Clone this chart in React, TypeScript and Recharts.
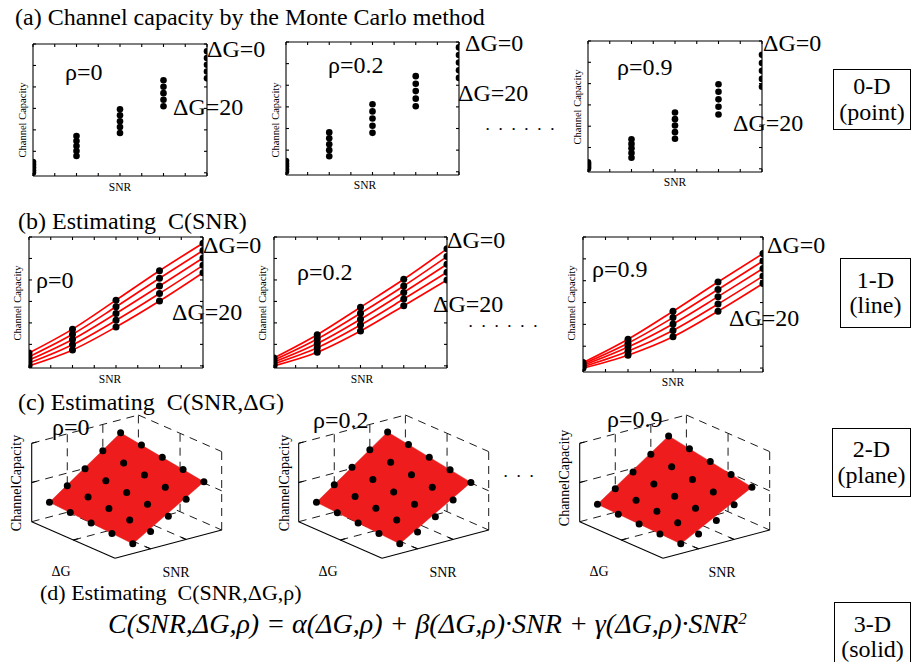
import React from 'react';
import { ComposedChart, ScatterChart, Scatter, Line, XAxis, YAxis } from 'recharts';

// ---------- data ----------
const SNR = [0, 5, 10, 15, 20];
const DELTA_G = [0, 5, 10, 15, 20];
const SNR_TICKS = [0, 2.5, 5, 7.5, 10, 12.5, 15, 17.5, 20];
const CAP_TICKS = [0, 1, 2, 3, 4, 5, 6];

// rows: ΔG = 0, 5, 10, 15, 20 ; columns: SNR = 0, 5, 10, 15, 20
const CAP_RHO0_A = [
  [0.5, 1.71, 2.96, 4.31, 5.66],
  [0.38, 1.48, 2.68, 4.01, 5.35],
  [0.25, 1.25, 2.4, 3.71, 5.03],
  [0.12, 1.01, 2.13, 3.4, 4.72],
  [0.0, 0.78, 1.85, 3.1, 4.4],
];
const CAP_RHO02_A = [
  [0.5, 1.82, 3.12, 4.42, 5.75],
  [0.37, 1.55, 2.79, 4.07, 5.4],
  [0.25, 1.27, 2.46, 3.73, 5.05],
  [0.12, 1.0, 2.13, 3.38, 4.69],
  [0.0, 0.72, 1.8, 3.03, 4.34],
];
const CAP_RHO09_A = [
  [0.3, 1.39, 2.64, 3.97, 5.35],
  [0.22, 1.17, 2.33, 3.62, 4.97],
  [0.15, 0.96, 2.03, 3.26, 4.6],
  [0.07, 0.74, 1.72, 2.91, 4.22],
  [0.0, 0.52, 1.41, 2.55, 3.85],
];
const CAP_RHO0_B = [
  [0.6, 1.71, 3.06, 4.43, 5.71],
  [0.42, 1.47, 2.75, 4.08, 5.37],
  [0.27, 1.23, 2.44, 3.72, 5.02],
  [0.13, 0.98, 2.12, 3.37, 4.68],
  [0.0, 0.74, 1.81, 3.02, 4.34],
];
const CAP_RHO02_B = [
  [0.37, 1.45, 2.73, 4.03, 5.45],
  [0.27, 1.25, 2.45, 3.72, 5.09],
  [0.18, 1.04, 2.17, 3.42, 4.73],
  [0.09, 0.84, 1.9, 3.11, 4.36],
  [0.0, 0.63, 1.62, 2.8, 4.0],
];
const CAP_RHO09_B = [
  [0.25, 1.32, 2.6, 3.94, 5.24],
  [0.19, 1.14, 2.31, 3.6, 4.9],
  [0.12, 0.96, 2.02, 3.27, 4.56],
  [0.06, 0.77, 1.72, 2.93, 4.21],
  [0.0, 0.59, 1.43, 2.6, 3.87],
];
// 3-D axis ranges
const SNR_RANGE_3D = [-5, 25];
const DG_RANGE_3D = [0, 20];
const CAP_RANGE_3D = [-1, 7];
const SNR_GRID_3D = [1 / 3, 2 / 3];

// ---------- styles ----------
const FONT = '"Liberation Serif", "Times New Roman", serif';
const PAD = 6;
const AX = { stroke: '#000', strokeWidth: 1.1 };
const Dot = (p: any) => <circle cx={p.cx} cy={p.cy} r={3.3} fill="#000" />;
const BigDot = (p: any) => <circle cx={p.cx} cy={p.cy} r={3.5} fill="#000" />;
const Empty = () => <g />;

function Frame2D({ x, y, w, h, yMin, rows, lines }: any) {
  const pts = rows.flatMap((r: number[]) => r.map((c, i) => ({ snr: SNR[i], c })));
  const data = SNR.map((s, i) => {
    const o: any = { snr: s };
    rows.forEach((r: number[], k: number) => {
      o['g' + k] = r[i];
    });
    return o;
  });
  const common: any = {
    type: 'number',
    allowDataOverflow: true,
    mirror: true,
    tickSize: 3,
    tickFormatter: () => '',
    axisLine: AX,
    tickLine: AX,
    stroke: '#000',
  };
  return (
    <div style={{ position: 'absolute', left: x - PAD, top: y - PAD }}>
      <ComposedChart
        width={w + 2 * PAD}
        height={h + 2 * PAD}
        data={data}
        margin={{ top: PAD, right: PAD, bottom: PAD, left: PAD }}
      >
        <XAxis xAxisId="b" dataKey="snr" orientation="bottom" domain={[0, 20]} ticks={SNR_TICKS} {...common} />
        <XAxis xAxisId="t" dataKey="snr" orientation="top" domain={[0, 20]} ticks={SNR_TICKS} {...common} />
        <YAxis yAxisId="l" dataKey="c" orientation="left" domain={[yMin, 6]} ticks={CAP_TICKS} {...common} />
        <YAxis yAxisId="r" orientation="right" domain={[yMin, 6]} ticks={CAP_TICKS} {...common} />
        {lines &&
          rows.map((_: any, k: number) => (
            <Line
              key={k}
              xAxisId="b"
              yAxisId="l"
              dataKey={'g' + k}
              type="monotone"
              stroke="#ff0000"
              strokeWidth={1.7}
              dot={false}
              activeDot={false}
              isAnimationActive={false}
            />
          ))}
        <Scatter
          xAxisId="b"
          yAxisId="l"
          data={pts}
          dataKey="c"
          shape={lines ? BigDot : Dot}
          isAnimationActive={false}
        />
      </ComposedChart>
    </div>
  );
}

// 3-D projection geometry (chart-local)
const C_W = 250;
const C_H = 190;
const ORIGIN = { x: 31.7, y: 126.7 };
const V_SNR = { x: 106.7, y: -28.3 };
const V_DG = { x: 83.3, y: 36.6 };
const V_Z = { x: 0, y: -78.4 };
const pr = (u: number, v: number, w: number) => ({
  x: ORIGIN.x + u * V_SNR.x + v * V_DG.x + w * V_Z.x,
  y: ORIGIN.y + u * V_SNR.y + v * V_DG.y + w * V_Z.y,
});
const proj = (snr: number, dg: number, c: number) =>
  pr(
    (snr - SNR_RANGE_3D[0]) / (SNR_RANGE_3D[1] - SNR_RANGE_3D[0]),
    (dg - DG_RANGE_3D[0]) / (DG_RANGE_3D[1] - DG_RANGE_3D[0]),
    (c - CAP_RANGE_3D[0]) / (CAP_RANGE_3D[1] - CAP_RANGE_3D[0])
  );

type Seg = [number[], number[]];
const DASHED: Seg[] = [
  [[0, 0, 0], [1, 0, 0]],
  [[0, 0.5, 0], [1, 0.5, 0]],
  [[1, 0, 0], [1, 1, 0]],
  ...SNR_GRID_3D.map((u) => [[u, 0, 0], [u, 1, 0]] as Seg),
  [[0, 0, 0.5], [1, 0, 0.5]],
  [[0, 0, 1], [1, 0, 1]],
  ...SNR_GRID_3D.map((u) => [[u, 0, 0], [u, 0, 1]] as Seg),
  [[1, 0, 0], [1, 0, 1]],
  [[1, 0, 0.5], [1, 1, 0.5]],
  [[1, 0, 1], [1, 1, 1]],
  [[1, 0.5, 0], [1, 0.5, 1]],
  [[1, 1, 0], [1, 1, 1]],
];
const SOLID: Seg[] = [
  [[0, 0, 0], [0, 0, 1]],
  [[0, 0, 0], [0, 1, 0]],
  [[0, 1, 0], [1, 1, 0]],
  [[0, 0, 0.5], [0.045, 0, 0.5]],
  [[0, 0, 1], [0.045, 0, 1]],
  [[0, 0.5, 0], [0.045, 0.5, 0]],
  ...SNR_GRID_3D.map((u) => [[u, 1, 0], [u, 0.94, 0]] as Seg),
];

function Frame3D({ x, y, rows }: any) {
  const dots = rows.flatMap((r: number[], k: number) => r.map((c, i) => proj(SNR[i], DELTA_G[k], c)));
  const n = SNR.length - 1;
  const plane = [
    proj(SNR[0], DELTA_G[0], rows[0][0]),
    proj(SNR[n], DELTA_G[0], rows[0][n]),
    proj(SNR[n], DELTA_G[n], rows[n][n]),
    proj(SNR[0], DELTA_G[n], rows[n][0]),
  ];
  const segData = (s: Seg) => [pr(s[0][0], s[0][1], s[0][2]), pr(s[1][0], s[1][1], s[1][2])];
  return (
    <div style={{ position: 'absolute', left: x, top: y }}>
      <ScatterChart width={C_W} height={C_H} margin={{ top: 0, right: 0, bottom: 0, left: 0 }}>
        <XAxis type="number" dataKey="x" domain={[0, C_W]} hide allowDataOverflow />
        <YAxis type="number" dataKey="y" domain={[0, C_H]} reversed hide allowDataOverflow />
        {DASHED.map((s, i) => (
          <Scatter
            key={'d' + i}
            data={segData(s)}
            line={{ stroke: '#000', strokeWidth: 0.9, strokeDasharray: '8 6' }}
            shape={Empty}
            isAnimationActive={false}
          />
        ))}
        {SOLID.map((s, i) => (
          <Scatter
            key={'s' + i}
            data={segData(s)}
            line={{ stroke: '#000', strokeWidth: 1.1 }}
            shape={Empty}
            isAnimationActive={false}
          />
        ))}
        <Scatter
          data={plane}
          line={{ fill: '#ee1c1c', stroke: '#e01515', strokeWidth: 0.5 }}
          lineJointType="linearClosed"
          shape={Empty}
          isAnimationActive={false}
        />
        <Scatter data={dots} shape={BigDot} isAnimationActive={false} />
      </ScatterChart>
    </div>
  );
}

// ---------- text helpers ----------
function T({ x, cy, size = 24, children, center, italic, spacing }: any) {
  return (
    <div
      style={{
        position: 'absolute',
        left: x,
        top: cy - 0.507 * size,
        fontSize: size,
        lineHeight: 1,
        whiteSpace: 'pre',
        fontStyle: italic ? 'italic' : 'normal',
        transform: center ? 'translateX(-50%)' : undefined,
        letterSpacing: spacing,
      }}
    >
      {children}
    </div>
  );
}
// dot leader, positioned by its baseline
function Leader({ x, baseline, count }: any) {
  const size = 13;
  return (
    <div
      style={{
        position: 'absolute',
        left: x,
        top: baseline - 0.8375 * size,
        fontSize: size,
        fontWeight: 'bold',
        lineHeight: 1,
        whiteSpace: 'pre',
        letterSpacing: 9.7,
      }}
    >
      {'.'.repeat(count)}
    </div>
  );
}
function VT({ cx, cy, size, children }: any) {
  return (
    <div
      style={{
        position: 'absolute',
        left: cx,
        top: cy,
        fontSize: size,
        lineHeight: 1,
        whiteSpace: 'pre',
        transform: 'translate(-50%, -50%) rotate(-90deg)',
      }}
    >
      {children}
    </div>
  );
}
function Box({ x, y, w, h, l1, l2 }: any) {
  return (
    <div
      style={{
        position: 'absolute',
        left: x,
        top: y,
        width: w,
        height: h,
        border: '1px solid #000',
        boxSizing: 'border-box',
        display: 'flex',
        flexDirection: 'column',
        alignItems: 'center',
        justifyContent: 'center',
        fontSize: 24,
        lineHeight: 1.05,
      }}
    >
      <div>{l1}</div>
      <div>{l2}</div>
    </div>
  );
}

export default function App() {
  return (
    <div
      style={{
        position: 'absolute',
        left: 0,
        top: 0,
        width: 911,
        height: 662,
        background: '#fff',
        overflow: 'hidden',
        fontFamily: FONT,
        color: '#000',
      }}
    >
      {/* Row (a) */}
      <Frame2D x={33} y={44} w={174} h={132} yMin={-0.15} rows={CAP_RHO0_A} />
      <Frame2D x={286} y={42} w={173} h={133} yMin={-0.15} rows={CAP_RHO02_A} />
      <Frame2D x={588} y={41} w={174} h={131} yMin={-0.15} rows={CAP_RHO09_A} />
      {/* Row (b) */}
      <Frame2D x={29} y={237} w={174} h={131} yMin={-0.1} rows={CAP_RHO0_B} lines />
      <Frame2D x={274} y={237} w={173} h={131} yMin={-0.1} rows={CAP_RHO02_B} lines />
      <Frame2D x={583} y={237} w={180} h={135} yMin={-0.18} rows={CAP_RHO09_B} lines />
      {/* Row (c) */}
      <Frame3D x={0} y={395} rows={CAP_RHO0_A} />
      <Frame3D x={267.3} y={395} rows={CAP_RHO02_A} />
      <Frame3D x={548.3} y={395} rows={CAP_RHO09_A} />

      {/* Row (a) text */}
      <T x={15} cy={17}>(a) Channel capacity by the Monte Carlo method</T>
      <T x={65} cy={72}>ρ=0</T>
      <T x={207} cy={49}>ΔG=0</T>
      <T x={173} cy={107}>ΔG=20</T>
      <VT cx={23} cy={120} size={10.5}>Channel Capacity</VT>
      <T x={120} cy={188} size={11.5} center>SNR</T>
      <T x={328} cy={65}>ρ=0.2</T>
      <T x={465} cy={43}>ΔG=0</T>
      <T x={458} cy={93}>ΔG=20</T>
      <VT cx={276} cy={120} size={10.5}>Channel Capacity</VT>
      <T x={365} cy={186} size={11.5} center>SNR</T>
      <T x={617} cy={67}>ρ=0.9</T>
      <T x={763} cy={43}>ΔG=0</T>
      <T x={733} cy={123}>ΔG=20</T>
      <VT cx={578} cy={107} size={10.5}>Channel Capacity</VT>
      <T x={675} cy={183} size={11.5} center>SNR</T>
      <Leader x={486} baseline={130} count={6} />
      <Box x={833} y={69} w={78} h={61} l1="0-D" l2="(point)" />

      {/* Row (b) text */}
      <T x={18} cy={221}>(b) Estimating  C(SNR)</T>
      <T x={36} cy={280}>ρ=0</T>
      <T x={203} cy={245}>ΔG=0</T>
      <T x={172} cy={312}>ΔG=20</T>
      <VT cx={18} cy={303} size={10.5}>Channel Capacity</VT>
      <T x={110} cy={380} size={11.5} center>SNR</T>
      <T x={297} cy={272}>ρ=0.2</T>
      <T x={447} cy={240}>ΔG=0</T>
      <T x={433} cy={304}>ΔG=20</T>
      <VT cx={263} cy={303} size={10.5}>Channel Capacity</VT>
      <T x={362} cy={380} size={11.5} center>SNR</T>
      <T x={592} cy={269}>ρ=0.9</T>
      <T x={767} cy={245}>ΔG=0</T>
      <T x={729} cy={318}>ΔG=20</T>
      <VT cx={572} cy={303} size={10.5}>Channel Capacity</VT>
      <T x={673} cy={383} size={11.5} center>SNR</T>
      <Leader x={469} baseline={327} count={6} />
      <Box x={840} y={258} w={71} h={70} l1="1-D" l2="(line)" />

      {/* Row (c) text */}
      <T x={18} cy={402}>(c) Estimating  C(SNR,ΔG)</T>
      <T x={52} cy={427}>ρ=0</T>
      <T x={313} cy={420}>ρ=0.2</T>
      <T x={607} cy={419}>ρ=0.9</T>
      <VT cx={17} cy={483} size={14}>ChannelCapacity</VT>
      <VT cx={285} cy={483} size={14}>ChannelCapacity</VT>
      <VT cx={565} cy={478} size={14}>ChannelCapacity</VT>
      <T x={61} cy={572} size={14} center>ΔG</T>
      <T x={328} cy={572} size={14} center>ΔG</T>
      <T x={599} cy={572} size={14} center>ΔG</T>
      <T x={176} cy={573} size={14} center>SNR</T>
      <T x={443} cy={573} size={14} center>SNR</T>
      <T x={722} cy={573} size={14} center>SNR</T>
      <Leader x={504} baseline={477} count={3} />
      <Box x={832} y={428} w={79} h={69} l1="2-D" l2="(plane)" />

      {/* Row (d) text */}
      <T x={40} cy={593} size={22}>(d) Estimating  C(SNR,ΔG,ρ)</T>
      <T x={108} cy={624} size={28} italic>
        C(SNR,ΔG,ρ) = α(ΔG,ρ) + β(ΔG,ρ)·SNR + γ(ΔG,ρ)·SNR
        <span style={{ fontSize: 17, verticalAlign: 'top', lineHeight: 1 }}>2</span>
      </T>
      <Box x={834} y={602} w={77} h={70} l1="3-D" l2="(solid)" />
    </div>
  );
}
